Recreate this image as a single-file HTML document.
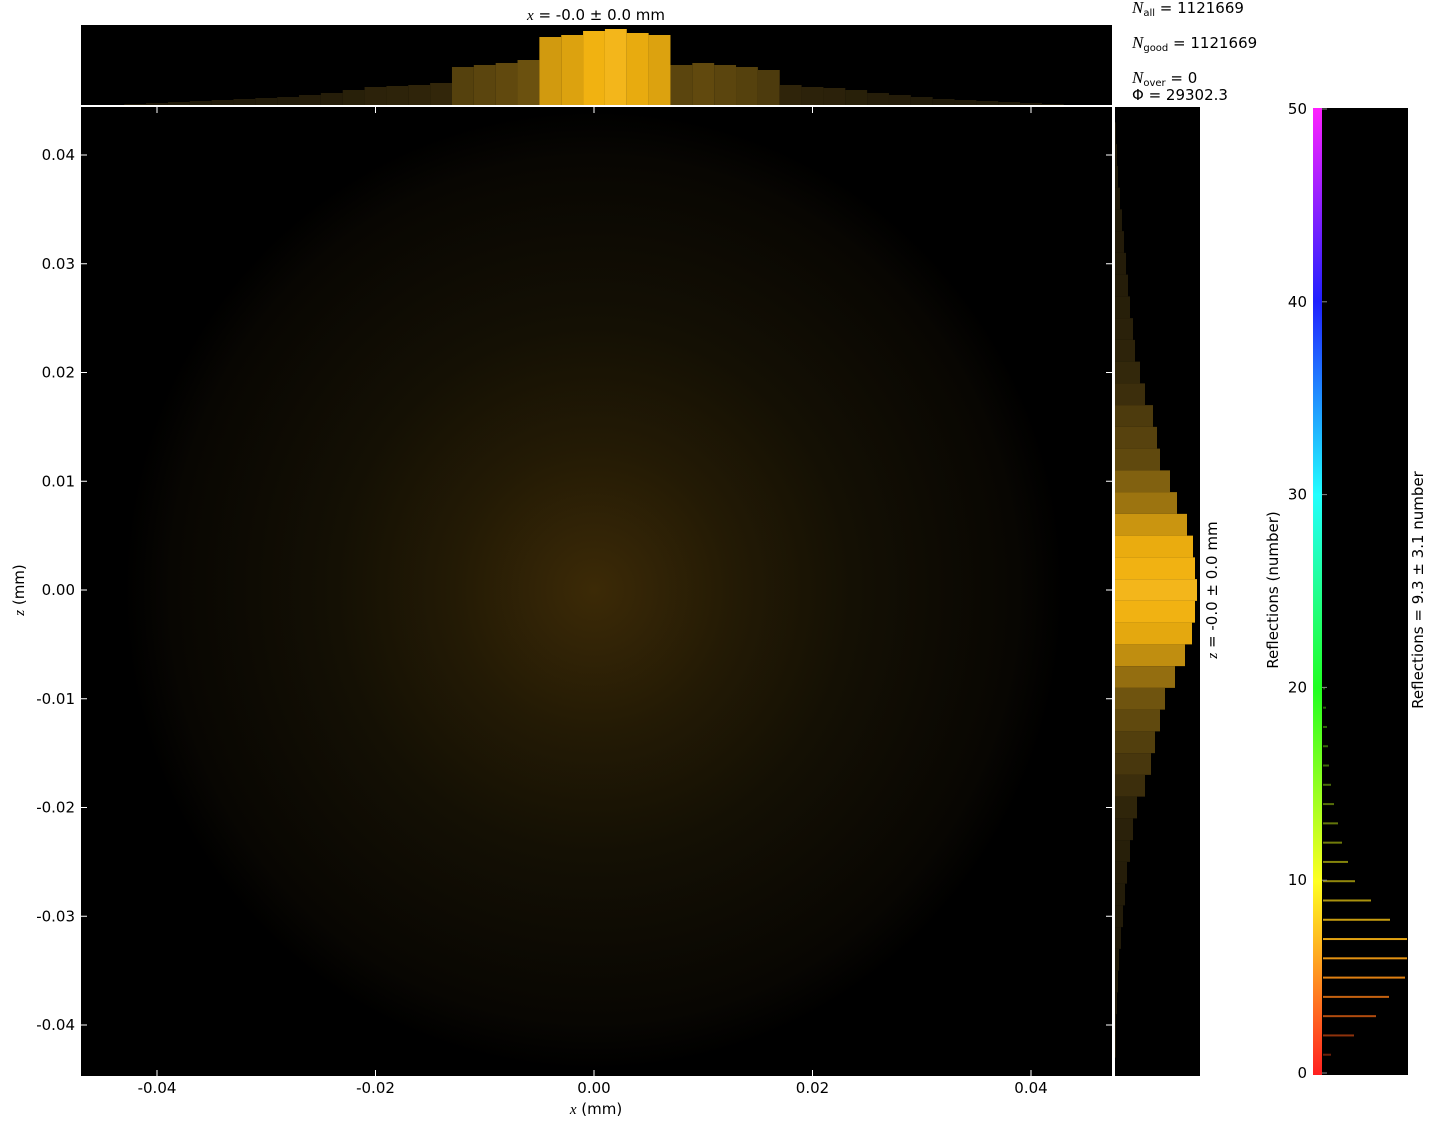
<!DOCTYPE html>
<html><head><meta charset="utf-8"><style>
body{margin:0;background:#fff;width:1430px;height:1120px;overflow:hidden;font-family:"Liberation Sans","DejaVu Sans",sans-serif;}
svg text{font-family:"DejaVu Sans","Liberation Sans",sans-serif;font-size:15px;fill:#000}
</style></head><body>
<svg id="c" width="1430" height="1120">
<defs>
<radialGradient id="blob" cx="0.5" cy="0.5" r="0.5">
<stop offset="0" stop-color="#3c2a06"/>
<stop offset="0.3" stop-color="#231a05"/>
<stop offset="0.55" stop-color="#141004"/>
<stop offset="0.9" stop-color="#080602"/>
<stop offset="1" stop-color="#000"/>
</radialGradient>
<linearGradient id="cmap" x1="0" y1="1" x2="0" y2="0">
<stop offset="0" stop-color="#ff2020"/><stop offset="0.2" stop-color="#ffff20"/>
<stop offset="0.4" stop-color="#20ff20"/><stop offset="0.6" stop-color="#20ffff"/>
<stop offset="0.8" stop-color="#2020ff"/><stop offset="1" stop-color="#ff20ff"/>
</linearGradient>
<clipPath id="mainclip"><rect x="81" y="107" width="1031" height="969"/></clipPath>
</defs>
<rect x="81" y="107" width="1031" height="969" fill="#000"/>
<ellipse clip-path="url(#mainclip)" cx="594" cy="590" rx="470" ry="480" fill="url(#blob)"/>
<rect x="81" y="25" width="1031" height="80" fill="#000"/>
<rect x="1115" y="107" width="85" height="969" fill="#000"/>
<rect x="1313" y="108" width="9" height="967" fill="url(#cmap)"/>
<rect x="1322" y="108" width="86" height="967" fill="#000"/>
<g id="g"></g>
<text x="596" y="20" text-anchor="middle"><tspan font-style="italic" font-family="Liberation Serif">x</tspan> = -0.0 ± 0.0 mm</text>
<text x="596" y="1114" text-anchor="middle"><tspan font-style="italic" font-family="Liberation Serif">x</tspan> (mm)</text>
<text transform="translate(24,590) rotate(-90)" text-anchor="middle"><tspan font-style="italic" font-family="Liberation Serif">z</tspan> (mm)</text>
<text transform="translate(1217,590) rotate(-90)" text-anchor="middle"><tspan font-style="italic" font-family="Liberation Serif">z</tspan> = -0.0 ± 0.0 mm</text>
<text transform="translate(1278,590) rotate(-90)" text-anchor="middle">Reflections (number)</text>
<text transform="translate(1423,590) rotate(-90)" text-anchor="middle">Reflections = 9.3 ± 3.1 number</text>
<text x="1132" y="13"><tspan font-style="italic" font-family="Liberation Serif" font-size="17">N</tspan><tspan font-size="10" dy="3">all</tspan><tspan dy="-3"> = 1121669</tspan></text>
<text x="1132" y="48"><tspan font-style="italic" font-family="Liberation Serif" font-size="17">N</tspan><tspan font-size="10" dy="3">good</tspan><tspan dy="-3"> = 1121669</tspan></text>
<text x="1132" y="83"><tspan font-style="italic" font-family="Liberation Serif" font-size="17">N</tspan><tspan font-size="10" dy="3">over</tspan><tspan dy="-3"> = 0</tspan></text>
<text x="1132" y="100">Φ = 29302.3</text>
</svg>
<script>
const xTicks=[-0.04,-0.02,0.00,0.02,0.04];
const zTicks=[0.04,0.03,0.02,0.01,0.00,-0.01,-0.02,-0.03,-0.04];
const cTicks=[0,10,20,30,40,50];
const topBins=[-0.042,-0.04,-0.038,-0.036,-0.034,-0.032,-0.03,-0.028,-0.026,-0.024,-0.022,-0.02,-0.018,-0.016,-0.014,-0.012,-0.01,-0.008,-0.006,-0.004,-0.002,0,0.002,0.004,0.006,0.008,0.01,0.012,0.014,0.016,0.018,0.02,0.022,0.024,0.026,0.028,0.03,0.032,0.034,0.036,0.038,0.04,0.042];
const topVals=[1,2,3,4,5,6,7,8,10,12,15,18,19,20,22,38,40,42,45,68,70,74,76,72,70,40,42,40,38,35,20,18,17,15,12,10,8,6,5,4,3,2,1];
const sideBins=[0.042,0.04,0.038,0.036,0.034,0.032,0.03,0.028,0.026,0.024,0.022,0.02,0.018,0.016,0.014,0.012,0.01,0.008,0.006,0.004,0.002,0,-0.002,-0.004,-0.006,-0.008,-0.01,-0.012,-0.014,-0.016,-0.018,-0.02,-0.022,-0.024,-0.026,-0.028,-0.03,-0.032,-0.034,-0.036,-0.038,-0.04,-0.042];
const sideVals=[1,2,3,5,7,9,11,13,15,18,20,25,30,38,42,45,55,62,72,78,80,82,80,77,70,60,50,45,40,36,30,22,18,15,12,10,8,6,4,3,2,1,1];
const reflVals=[1,2,3,4,5,6,7,8,9,10,11,12,13,14,15,16,17,18,19,20];
const reflCounts=[8,31,53,66,82,84,84,67,48,32,25,19,15,11,8,6,5,4,3,2];
const NS='http://www.w3.org/2000/svg';const g=document.getElementById('g');
const X=v=>594+v*10925, Z=v=>590-v*10875, C=v=>1073-v*19.28+1;
function el(t,a){const e=document.createElementNS(NS,t);for(const k in a)e.setAttribute(k,a[k]);g.appendChild(e);return e;}
function col(frac){const l=8+Math.pow(frac,2)*45;return `hsl(43,${55+frac*35}%,${l}%)`;}
topBins.forEach((b,i)=>{const h=topVals[i];const x0=X(b-0.001);
 const r=el('rect',{x:x0,y:105-h,width:X(b+0.001)-x0,height:h,fill:col(h/76)});
 });
sideBins.forEach((b,i)=>{const w=sideVals[i];const y0=Z(b+0.001);
 const r=el('rect',{x:1115,y:y0,width:w,height:Z(b-0.001)-y0,fill:col(w/82)});
 });
reflVals.forEach((v,i)=>{const hue=v/50*300;
 const r=el('rect',{x:1323,y:C(v)-1,width:reflCounts[i],height:2,fill:`hsl(${hue*0.8+8},85%,${20+reflCounts[i]*0.33}%)`});
 });
xTicks.forEach(v=>{const x=X(v);
 el('line',{x1:x,x2:x,y1:1076,y2:1070,stroke:'#fff'});el('line',{x1:x,x2:x,y1:107,y2:113,stroke:'#fff'});
 const t=el('text',{x:x,y:1093,'text-anchor':'middle'});t.textContent=v.toFixed(2);
 });
zTicks.forEach(v=>{const y=Z(v);
 el('line',{x1:81,x2:87,y1:y,y2:y,stroke:'#fff'});el('line',{x1:1112,x2:1106,y1:y,y2:y,stroke:'#fff'});
 const t=el('text',{x:75,y:y+5,'text-anchor':'end'});t.textContent=v.toFixed(2);
 });
cTicks.forEach(v=>{const y=1073-v*19.28;
 el('line',{x1:1322,x2:1327,y1:y,y2:y,stroke:'#888'});
 const t=el('text',{x:1307,y:y+5,'text-anchor':'end'});t.textContent=v;
 });
</script>
</body></html>
